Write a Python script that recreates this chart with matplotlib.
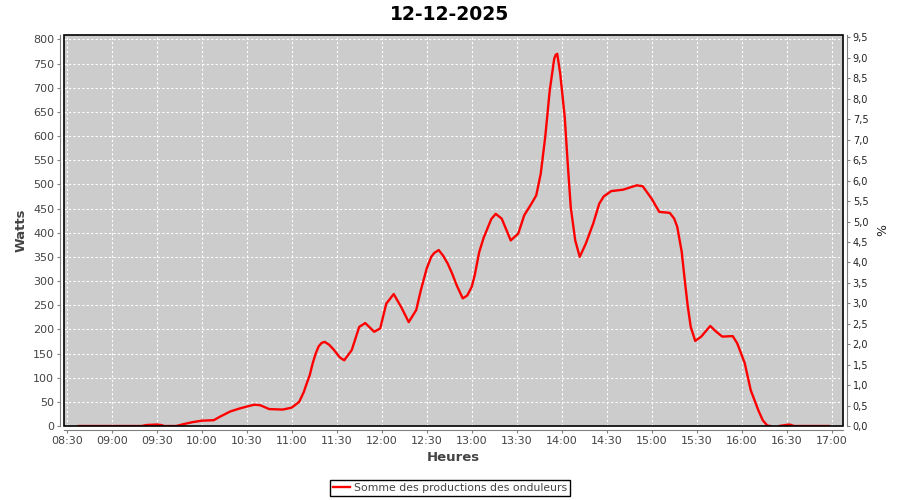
import numpy as np
import matplotlib
matplotlib.use("Agg")
import matplotlib.pyplot as plt
from matplotlib.patches import Rectangle
from matplotlib.ticker import FuncFormatter, MultipleLocator

# readings taken off the curve (heure, watts); nan = line hidden under the axis
times = ["08:38", "09:00", "09:20", "09:23", "09:30", "09:33", "09:35", "09:43",
         "09:48", "09:54", "10:00", "10:08", "10:12", "10:19", "10:25", "10:31",
         "10:35", "10:39", "10:45", "10:54", "11:00", "11:05", "11:08", "11:10",
         "11:12", "11:14", "11:16", "11:18", "11:20", "11:22", "11:25", "11:28",
         "11:32", "11:35", "11:40", "11:45", "11:49", "11:55", "11:59", "12:03",
         "12:08", "12:13", "12:18", "12:23", "12:26", "12:30", "12:33", "12:35",
         "12:38", "12:41", "12:44", "12:47", "12:50", "12:54", "12:57", "13:00",
         "13:02", "13:05", "13:08", "13:10", "13:13", "13:16", "13:20", "13:26",
         "13:31", "13:35", "13:40", "13:43", "13:46", "13:49", "13:52", "13:55",
         "13:56", "13:57", "13:59", "14:02", "14:04", "14:06", "14:09", "14:12",
         "14:16", "14:21", "14:25", "14:28", "14:33", "14:41", "14:50", "14:54",
         "15:00", "15:05", "15:12", "15:15", "15:17", "15:20", "15:22", "15:24",
         "15:26", "15:29", "15:33", "15:39", "15:43", "15:47", "15:54", "15:57",
         "16:02", "16:06", "16:11", "16:14", "16:17", "16:19", "16:22", "16:25",
         "16:29", "16:32", "16:35", "16:58"]
watts = [0, 0, 0, 2, 3, 2, 0, 0,
         4, 8, 11, 12, 19, 30, 36, 41,
         44, 43, 35, 34, 38, 50, 70, 88,
         105, 130, 150, 165, 172, 174, 168, 158,
         142, 136, 157, 205, 213, 195, 202, 253,
         273, 246, 215, 240, 280, 326, 350, 358,
         364, 352, 336, 315, 291, 264, 270, 288,
         312, 360, 390, 405, 428, 439, 429, 384,
         398, 436, 461, 477, 522, 598, 694, 760,
         768, 770, 729, 639, 543, 453, 384, 350,
         377, 419, 460, 475, 486, 489, 498, 496,
         470, 443, 441, 429, 412, 360, 302, 248,
         205, 176, 185, 207, 195, 185, 186, 171,
         130, 74, 33, 12, 1, 0, np.nan, 0,
         2, 3, 0, 0]

title = "12-12-2025"
series_name = "Somme des productions des onduleurs"

hours = [int(t[:2]) + int(t[3:]) / 60 for t in times]

grey_txt = "#444444"
axis_grey = "#808080"

fig = plt.figure(figsize=(9, 5), dpi=100)
ax = fig.add_axes([64/900, 1 - 426/500, (843-64)/900, (426-35)/500])
ax.set_facecolor("#cccccc")

ax.plot(hours, watts, color="red", lw=1.7, label=series_name, zorder=3)

ax.set_xlim(8 + 28.2/60, 17 + 7.5/60)
ax.set_ylim(0, 809)
ax.xaxis.set_major_locator(MultipleLocator(0.5))
ax.xaxis.set_major_formatter(FuncFormatter(
    lambda v, p: "%02d:%02d" % (int(v), round((v - int(v)) * 60))))
ax.yaxis.set_major_locator(MultipleLocator(50))
ax.grid(True, color="white", lw=0.8, linestyle=(0, (2, 2)))

for s in ["top", "right"]:
    ax.spines[s].set_visible(False)
for s in ["left", "bottom"]:
    ax.spines[s].set_position(("outward", 3))
    ax.spines[s].set_color(axis_grey)
ax.tick_params(colors=axis_grey, labelcolor=grey_txt, labelsize=8,
               length=2, width=0.8, pad=2)
ax.add_patch(Rectangle((0, 0), 1, 1, transform=ax.transAxes, fill=False,
                       edgecolor="black", lw=1.2, clip_on=False, zorder=5))

ax.set_xlabel("Heures", fontsize=9.5, fontweight="bold", color=grey_txt, labelpad=4)
ax.set_ylabel("Watts", fontsize=9.5, fontweight="bold", color=grey_txt, labelpad=4)

# right axis (%) - no data on it
ax2 = ax.twinx()
ax2.set_ylim(0, 9.56)
ax2.yaxis.set_major_locator(MultipleLocator(0.5))
ax2.yaxis.set_major_formatter(FuncFormatter(lambda v, p: ("%.1f" % v).replace(".", ",")))
for s in ["top", "left", "bottom"]:
    ax2.spines[s].set_visible(False)
ax2.spines["right"].set_position(("outward", 3))
ax2.spines["right"].set_color(axis_grey)
ax2.tick_params(colors=axis_grey, labelcolor="#222222", labelsize=7,
                length=2, width=0.8, pad=2)
ax2.set_ylabel("%", fontsize=9, color="#222222", labelpad=6)

fig.text(0.5, 1 - 14/500, title, ha="center", va="center",
         fontsize=13.5, fontweight="bold")

leg = fig.legend(loc="center", bbox_to_anchor=(0.5, 1 - 488/500),
                 fontsize=7.8, frameon=True, fancybox=False, framealpha=1,
                 edgecolor="black", handlelength=1.6, handletextpad=0.3,
                 borderpad=0.3, labelcolor=grey_txt)
leg.get_frame().set_linewidth(1)

fig.savefig("out.png", dpi=100)
